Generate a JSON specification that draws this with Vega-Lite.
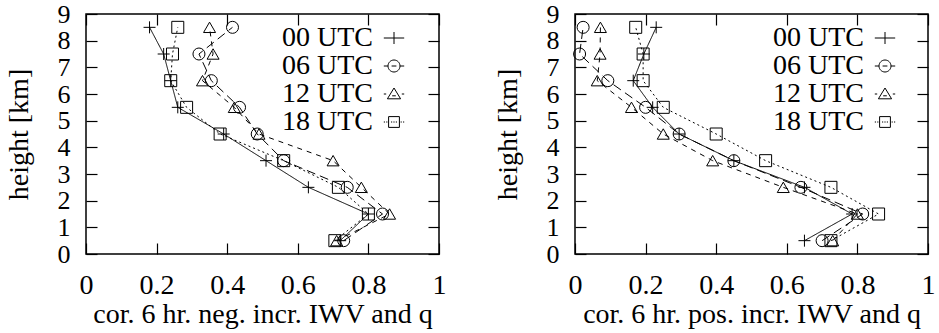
{
  "$schema": "https://vega.github.io/schema/vega-lite/v6.json",
  "padding": {"left": 4, "top": 0, "right": 0, "bottom": 0},
  "spacing": 46,
  "config": {
    "font": "Liberation Serif",
    "view": {"stroke": "black", "strokeWidth": 1.5},
    "axis": {
      "grid": false, "domain": false,
      "labelFont": "Liberation Serif", "titleFont": "Liberation Serif",
      "labelFontSize": 28, "titleFontSize": 28, "titleFontWeight": "normal",
      "labelColor": "black", "titleColor": "black", "tickColor": "black",
      "tickSize": -11, "tickWidth": 1.2, "labelFlush": false, "labelOverlap": false
    },
    "axisY": {"labelFontSize": 26},
    "legend": {
      "orient": "none", "padding": 0, "rowPadding": 0,
      "labelFont": "Liberation Serif", "labelFontSize": 28, "labelColor": "black",
      "labelAlign": "right", "labelOffset": -35, "labelBaseline": "middle",
      "symbolSize": 144, "symbolOpacity": 1, "symbolStrokeColor": "black",
      "symbolFillColor": "transparent", "symbolStrokeWidth": 1
    }
  },
  "datasets": {
    "neg": [
      {"s": "00 UTC", "h": 0.5, "r": 0.72}, {"s": "00 UTC", "h": 1.5, "r": 0.80}, {"s": "00 UTC", "h": 2.5, "r": 0.63},
      {"s": "00 UTC", "h": 3.5, "r": 0.51}, {"s": "00 UTC", "h": 4.5, "r": 0.39}, {"s": "00 UTC", "h": 5.5, "r": 0.26},
      {"s": "00 UTC", "h": 6.5, "r": 0.24}, {"s": "00 UTC", "h": 7.5, "r": 0.22}, {"s": "00 UTC", "h": 8.5, "r": 0.18},
      {"s": "06 UTC", "h": 0.5, "r": 0.73}, {"s": "06 UTC", "h": 1.5, "r": 0.84}, {"s": "06 UTC", "h": 2.5, "r": 0.74},
      {"s": "06 UTC", "h": 3.5, "r": 0.56}, {"s": "06 UTC", "h": 4.5, "r": 0.485}, {"s": "06 UTC", "h": 5.5, "r": 0.435},
      {"s": "06 UTC", "h": 6.5, "r": 0.355}, {"s": "06 UTC", "h": 7.5, "r": 0.32}, {"s": "06 UTC", "h": 8.5, "r": 0.415},
      {"s": "12 UTC", "h": 0.5, "r": 0.71}, {"s": "12 UTC", "h": 1.5, "r": 0.86}, {"s": "12 UTC", "h": 2.5, "r": 0.78},
      {"s": "12 UTC", "h": 3.5, "r": 0.70}, {"s": "12 UTC", "h": 4.5, "r": 0.49}, {"s": "12 UTC", "h": 5.5, "r": 0.42},
      {"s": "12 UTC", "h": 6.5, "r": 0.33}, {"s": "12 UTC", "h": 7.5, "r": 0.36}, {"s": "12 UTC", "h": 8.5, "r": 0.35},
      {"s": "18 UTC", "h": 0.5, "r": 0.705}, {"s": "18 UTC", "h": 1.5, "r": 0.80}, {"s": "18 UTC", "h": 2.5, "r": 0.715},
      {"s": "18 UTC", "h": 3.5, "r": 0.56}, {"s": "18 UTC", "h": 4.5, "r": 0.38}, {"s": "18 UTC", "h": 5.5, "r": 0.285},
      {"s": "18 UTC", "h": 6.5, "r": 0.24}, {"s": "18 UTC", "h": 7.5, "r": 0.245}, {"s": "18 UTC", "h": 8.5, "r": 0.26}
    ],
    "pos": [
      {"s": "00 UTC", "h": 0.5, "r": 0.65}, {"s": "00 UTC", "h": 1.5, "r": 0.785}, {"s": "00 UTC", "h": 2.5, "r": 0.65},
      {"s": "00 UTC", "h": 3.5, "r": 0.45}, {"s": "00 UTC", "h": 4.5, "r": 0.295}, {"s": "00 UTC", "h": 5.5, "r": 0.22},
      {"s": "00 UTC", "h": 6.5, "r": 0.165}, {"s": "00 UTC", "h": 7.5, "r": 0.195}, {"s": "00 UTC", "h": 8.5, "r": 0.23},
      {"s": "06 UTC", "h": 0.5, "r": 0.70}, {"s": "06 UTC", "h": 1.5, "r": 0.815}, {"s": "06 UTC", "h": 2.5, "r": 0.64},
      {"s": "06 UTC", "h": 3.5, "r": 0.45}, {"s": "06 UTC", "h": 4.5, "r": 0.295}, {"s": "06 UTC", "h": 5.5, "r": 0.20},
      {"s": "06 UTC", "h": 6.5, "r": 0.093}, {"s": "06 UTC", "h": 7.5, "r": 0.013}, {"s": "06 UTC", "h": 8.5, "r": 0.023},
      {"s": "12 UTC", "h": 0.5, "r": 0.73}, {"s": "12 UTC", "h": 1.5, "r": 0.80}, {"s": "12 UTC", "h": 2.5, "r": 0.59},
      {"s": "12 UTC", "h": 3.5, "r": 0.39}, {"s": "12 UTC", "h": 4.5, "r": 0.25}, {"s": "12 UTC", "h": 5.5, "r": 0.16},
      {"s": "12 UTC", "h": 6.5, "r": 0.063}, {"s": "12 UTC", "h": 7.5, "r": 0.071}, {"s": "12 UTC", "h": 8.5, "r": 0.072},
      {"s": "18 UTC", "h": 0.5, "r": 0.725}, {"s": "18 UTC", "h": 1.5, "r": 0.86}, {"s": "18 UTC", "h": 2.5, "r": 0.725},
      {"s": "18 UTC", "h": 3.5, "r": 0.54}, {"s": "18 UTC", "h": 4.5, "r": 0.40}, {"s": "18 UTC", "h": 5.5, "r": 0.25},
      {"s": "18 UTC", "h": 6.5, "r": 0.193}, {"s": "18 UTC", "h": 7.5, "r": 0.193}, {"s": "18 UTC", "h": 8.5, "r": 0.172}
    ]
  },
  "resolve": {"scale": {"shape": "independent"}, "legend": {"shape": "independent"}},
  "hconcat": [
    {
      "width": 353, "height": 240,
      "data": {"name": "neg"},
      "resolve": {"axis": {"x": "independent", "y": "independent"}, "scale": {"shape": "independent"}, "legend": {"shape": "independent"}},
      "layer": [
        {
          "mark": {"type": "line", "color": "black", "strokeWidth": 1},
          "encoding": {
            "x": {"field": "r", "type": "quantitative", "scale": {"domain": [0, 1], "nice": false, "zero": false},
                  "axis": {"values": [0, 0.2, 0.4, 0.6, 0.8, 1], "format": "~g", "labelPadding": 28, "titlePadding": 1, "title": "cor. 6 hr. neg. incr. IWV and q"}},
            "y": {"field": "h", "type": "quantitative", "scale": {"domain": [0, 9], "nice": false},
                  "axis": {"values": [0, 1, 2, 3, 4, 5, 6, 7, 8, 9], "format": "d", "labelPadding": 27, "titlePadding": 24, "title": "height [km]"}},
            "strokeDash": {"field": "s", "type": "nominal", "scale": {"domain": ["00 UTC", "06 UTC", "12 UTC", "18 UTC"], "range": [[1, 0], [9, 5], [5, 5], [2, 3]]}, "legend": null},
            "order": {"field": "h", "type": "quantitative"}
          }
        },
        {
          "mark": {"type": "point", "filled": false, "color": "black", "strokeWidth": 1, "size": 144, "opacity": 1},
          "encoding": {
            "x": {"field": "r", "type": "quantitative", "axis": {"orient": "top", "values": [0, 0.2, 0.4, 0.6, 0.8, 1], "labels": false, "title": null}},
            "y": {"field": "h", "type": "quantitative", "axis": {"orient": "right", "values": [0, 1, 2, 3, 4, 5, 6, 7, 8, 9], "labels": false, "title": null}},
            "shape": {"field": "s", "type": "nominal", "scale": {"domain": ["00 UTC", "06 UTC", "12 UTC", "18 UTC"], "range": ["M-1,0H1M0,-1V1", "circle", "triangle-up", "square"]}, "legend": null}
          }
        },
        {
          "mark": {"type": "point", "filled": false, "color": "black", "strokeWidth": 1, "size": 144, "opacity": 0},
          "encoding": {
            "x": {"field": "r", "type": "quantitative", "axis": null},
            "y": {"field": "h", "type": "quantitative", "axis": null},
            "shape": {"field": "s", "type": "nominal",
              "scale": {"domain": ["00 UTC", "06 UTC", "12 UTC", "18 UTC"], "range": [
                "M-1.7,0H1.7M0,-1V1",
                "M-1.7,0H-1M1,0H1.7M1,0A1,1 0 1,1 -1,0A1,1 0 1,1 1,0M-0.4,0H0.4",
                "M-1.7,0H-1.3M1.3,0H1.7M0,-1L1.1,0.8H-1.1ZM-0.3,0.3H0.3",
                "M-1.7,0H-1.5M-1.3,0H-1.1M1.1,0H1.3M1.5,0H1.7M-0.9,-0.9H0.9V0.9H-0.9ZM-0.5,0H-0.3M-0.1,0H0.1M0.3,0H0.5"
              ]},
              "legend": {"title": null, "legendX": 294, "legendY": 10}}
          }
        }
      ]
    },
    {
      "width": 353, "height": 240,
      "data": {"name": "pos"},
      "resolve": {"axis": {"x": "independent", "y": "independent"}, "scale": {"shape": "independent"}, "legend": {"shape": "independent"}},
      "layer": [
        {
          "mark": {"type": "line", "color": "black", "strokeWidth": 1},
          "encoding": {
            "x": {"field": "r", "type": "quantitative", "scale": {"domain": [0, 1], "nice": false, "zero": false},
                  "axis": {"values": [0, 0.2, 0.4, 0.6, 0.8, 1], "format": "~g", "labelPadding": 28, "titlePadding": 1, "title": "cor. 6 hr. pos. incr. IWV and q"}},
            "y": {"field": "h", "type": "quantitative", "scale": {"domain": [0, 9], "nice": false},
                  "axis": {"values": [0, 1, 2, 3, 4, 5, 6, 7, 8, 9], "format": "d", "labelPadding": 27, "titlePadding": 24, "title": "height [km]"}},
            "strokeDash": {"field": "s", "type": "nominal", "scale": {"domain": ["00 UTC", "06 UTC", "12 UTC", "18 UTC"], "range": [[1, 0], [9, 5], [5, 5], [2, 3]]}, "legend": null},
            "order": {"field": "h", "type": "quantitative"}
          }
        },
        {
          "mark": {"type": "point", "filled": false, "color": "black", "strokeWidth": 1, "size": 144, "opacity": 1},
          "encoding": {
            "x": {"field": "r", "type": "quantitative", "axis": {"orient": "top", "values": [0, 0.2, 0.4, 0.6, 0.8, 1], "labels": false, "title": null}},
            "y": {"field": "h", "type": "quantitative", "axis": {"orient": "right", "values": [0, 1, 2, 3, 4, 5, 6, 7, 8, 9], "labels": false, "title": null}},
            "shape": {"field": "s", "type": "nominal", "scale": {"domain": ["00 UTC", "06 UTC", "12 UTC", "18 UTC"], "range": ["M-1,0H1M0,-1V1", "circle", "triangle-up", "square"]}, "legend": null}
          }
        },
        {
          "mark": {"type": "point", "filled": false, "color": "black", "strokeWidth": 1, "size": 144, "opacity": 0},
          "encoding": {
            "x": {"field": "r", "type": "quantitative", "axis": null},
            "y": {"field": "h", "type": "quantitative", "axis": null},
            "shape": {"field": "s", "type": "nominal",
              "scale": {"domain": ["00 UTC", "06 UTC", "12 UTC", "18 UTC"], "range": [
                "M-1.7,0H1.7M0,-1V1",
                "M-1.7,0H-1M1,0H1.7M1,0A1,1 0 1,1 -1,0A1,1 0 1,1 1,0M-0.4,0H0.4",
                "M-1.7,0H-1.3M1.3,0H1.7M0,-1L1.1,0.8H-1.1ZM-0.3,0.3H0.3",
                "M-1.7,0H-1.5M-1.3,0H-1.1M1.1,0H1.3M1.5,0H1.7M-0.9,-0.9H0.9V0.9H-0.9ZM-0.5,0H-0.3M-0.1,0H0.1M0.3,0H0.5"
              ]},
              "legend": {"title": null, "legendX": 296, "legendY": 10}}
          }
        }
      ]
    }
  ]
}
